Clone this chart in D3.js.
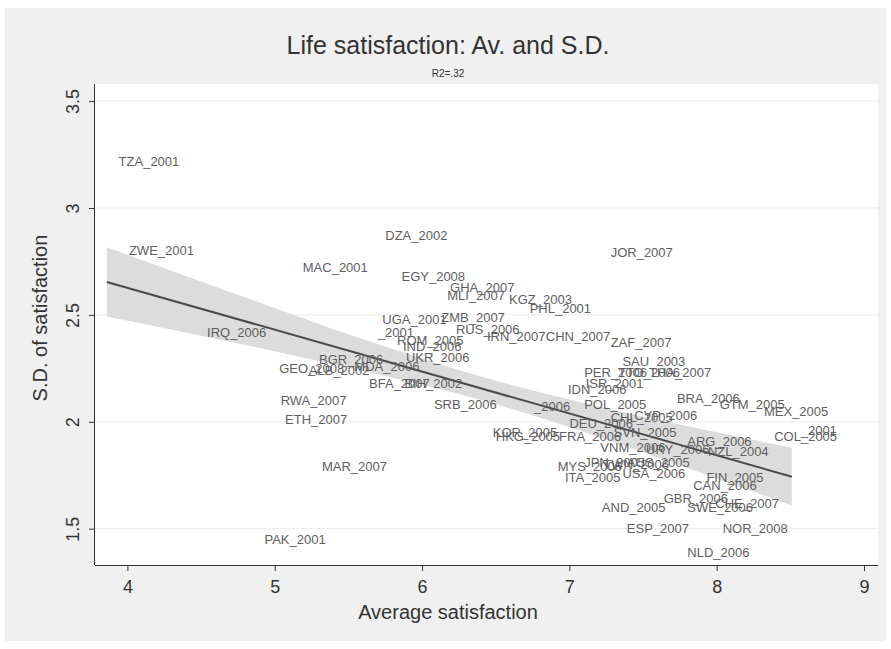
<!DOCTYPE html>
<html>
<head>
<meta charset="utf-8">
<script src="https://cdn.jsdelivr.net/npm/d3@7/dist/d3.min.js"></script>
<style>
  html, body { margin: 0; padding: 0; background: #ffffff; }
  svg { display: block; font-family: "Liberation Sans", Arial, Helvetica, sans-serif; }
</style>
</head>
<body>
<svg id="chart" width="891" height="649"></svg>
<script>
// ---- data ----
const labels = ["TZA_2001","ZWE_2001","MAC_2001","DZA_2002","EGY_2008","GHA_2007","MLI_2007","KGZ_2003","PHL_2001","JOR_2007",
  "UGA_2001","ZMB_2007","_2001","RUS_2006","IRN_2007","CHN_2007","ZAF_2007","IRQ_2006","ROM_2005","IND_2006",
  "UKR_2006","BGR_2006","GEO_2008","ALB_2002","MDA_2006","BFA_2007","BIH_2002","RWA_2007","SRB_2006","ETH_2007",
  "MAR_2007","PAK_2001","SAU_2003","PER_2006","TTO_2006","THA_2007","ISR_2001","IDN_2006","_2006","POL_2005",
  "CHL_2005","CYP_2006","BRA_2006","GTM_2005","MEX_2005","DEU_2006","SVN_2005","KOR_2005","HKG_2005","FRA_2006",
  "ARG_2006","COL_2005","_2001","VNM_2006","URY_2006","NZL_2004","MYS_2006","JPN_2005","TWN_2006","AUS_2005",
  "USA_2006","ITA_2005","FIN_2005","CAN_2006","AND_2005","GBR_2006","SWE_2006","CHE_2007","ESP_2007","NOR_2008",
  "NLD_2006"];
const avgSat = [3.92,3.99,5.17,5.73,5.84,6.17,6.15,6.57,6.71,7.26,
  5.71,6.11,5.68,6.21,6.42,6.82,7.26,4.52,5.81,5.85,
  5.87,5.28,5.01,5.21,5.52,5.62,5.86,5.02,6.06,5.05,
  5.30,4.91,7.34,7.08,7.31,7.52,7.09,6.97,6.74,7.08,
  7.26,7.42,7.71,8.00,8.30,6.98,7.28,6.46,6.48,6.91,
  7.78,8.37,8.55,7.19,7.50,7.92,6.90,7.08,7.21,7.37,
  7.34,6.95,7.91,7.82,7.20,7.62,7.78,7.97,7.37,8.02,
  7.78];
const sdSat = [3.22,2.80,2.72,2.87,2.68,2.63,2.59,2.57,2.53,2.79,
  2.48,2.49,2.42,2.43,2.40,2.40,2.37,2.42,2.38,2.35,
  2.30,2.29,2.25,2.24,2.26,2.18,2.18,2.10,2.08,2.01,
  1.79,1.45,2.28,2.23,2.23,2.23,2.18,2.15,2.07,2.08,
  2.02,2.03,2.11,2.08,2.05,1.99,1.95,1.95,1.93,1.93,
  1.91,1.93,1.96,1.88,1.87,1.86,1.79,1.81,1.80,1.81,
  1.76,1.74,1.74,1.70,1.60,1.64,1.60,1.62,1.50,1.50,
  1.39];

// fitted line and 95% band
const fitX = [3.86, 8.51];
const fitY = [2.654, 1.743];
const ciX     = [3.86, 4.5,   5.0,   5.5,   6.0,   6.5,   7.0,   7.5,   8.0,   8.51];
const ciUpper = [2.816,2.656, 2.532, 2.409, 2.296, 2.192, 2.104, 2.025, 1.951, 1.878];
const ciLower = [2.492,2.402, 2.330, 2.253, 2.174, 2.082, 1.975, 1.857, 1.735, 1.608];

const xTicks = [4, 5, 6, 7, 8, 9];
const yTicks = [1.5, 2, 2.5, 3, 3.5];
const yTickLabels = ["1.5", "2", "2.5", "3", "3.5"];

const title = "Life satisfaction: Av. and S.D.";
const subtitle = "R2=.32";
const xTitle = "Average satisfaction";
const yTitle = "S.D. of satisfaction";

// ---- layout ----
const svg = d3.select("#chart");
const W = 891, H = 649;
const plot = { left: 95, right: 878, top: 84, bottom: 565 };

svg.append("rect").attr("x", 0).attr("y", 0).attr("width", W).attr("height", H).attr("fill", "#ffffff");
svg.append("rect").attr("x", 5).attr("y", 8).attr("width", 881).attr("height", 633).attr("fill", "#f0f0f0");
svg.append("rect").attr("x", plot.left).attr("y", plot.top)
  .attr("width", plot.right - plot.left).attr("height", plot.bottom - plot.top).attr("fill", "#ffffff");

const x = d3.scaleLinear().domain([3.78, 9.095]).range([plot.left, plot.right]);
const y = d3.scaleLinear().domain([1.33, 3.58]).range([plot.bottom, plot.top]);

// gridlines
svg.append("g").selectAll("line").data(yTicks).join("line")
  .attr("x1", plot.left).attr("x2", plot.right)
  .attr("y1", d => y(d)).attr("y2", d => y(d))
  .attr("stroke", "#ececec").attr("stroke-width", 1);

// CI band
const band = ciX.map((v, i) => ({ x: v, lo: ciLower[i], hi: ciUpper[i] }));
svg.append("path").datum(band)
  .attr("d", d3.area().x(d => x(d.x)).y0(d => y(d.lo)).y1(d => y(d.hi)).curve(d3.curveMonotoneX))
  .attr("fill", "#dcdcdc");

// fit line
svg.append("path").datum(fitX.map((v, i) => [v, fitY[i]]))
  .attr("d", d3.line().x(d => x(d[0])).y(d => y(d[1])))
  .attr("stroke", "#4a4a4a").attr("stroke-width", 2).attr("fill", "none");

// labels (markers are invisible; labels placed right of the point)
svg.append("g").selectAll("text").data(labels).join("text")
  .attr("x", (d, i) => x(avgSat[i]) + 3)
  .attr("y", (d, i) => y(sdSat[i]))
  .attr("dy", "0.35em")
  .attr("font-size", 13)
  .attr("fill", "#5e5e5e")
  .text(d => d);

// axes
const xAxis = d3.axisBottom(x).tickValues(xTicks).tickSize(6).tickPadding(5).tickFormat(d3.format("d"));
const gx = svg.append("g").attr("transform", `translate(0,${plot.bottom})`).call(xAxis);
gx.select(".domain").attr("d", `M${plot.left},0.5H${plot.right}`).attr("stroke", "#333");
gx.selectAll(".tick line").attr("stroke", "#333");
gx.selectAll(".tick text").attr("font-size", 18).attr("fill", "#333")
  .attr("font-family", "Liberation Sans, Arial, sans-serif").attr("dy", "0.95em");

const yAxis = d3.axisLeft(y).tickValues(yTicks).tickSize(6).tickFormat((d, i) => yTickLabels[i]);
const gy = svg.append("g").attr("transform", `translate(${plot.left},0)`).call(yAxis);
gy.select(".domain").attr("d", `M-0.5,${plot.top}V${plot.bottom}`).attr("stroke", "#333");
gy.selectAll(".tick line").attr("stroke", "#333");
gy.selectAll(".tick text")
  .attr("font-size", 18).attr("fill", "#333")
  .attr("font-family", "Liberation Sans, Arial, sans-serif")
  .attr("x", null).attr("dy", null)
  .attr("text-anchor", "middle")
  .attr("transform", "translate(-22,0) rotate(-90)")
  .attr("y", 0).attr("dominant-baseline", "central");

// titles
svg.append("text").attr("x", 448).attr("y", 54).attr("text-anchor", "middle")
  .attr("font-size", 25).attr("fill", "#333").text(title);
svg.append("text").attr("x", 448).attr("y", 77).attr("text-anchor", "middle")
  .attr("font-size", 10).attr("fill", "#333").text(subtitle);
svg.append("text").attr("x", 448).attr("y", 619).attr("text-anchor", "middle")
  .attr("font-size", 20).attr("fill", "#333").text(xTitle);
svg.append("text").attr("transform", "translate(47,318) rotate(-90)").attr("text-anchor", "middle")
  .attr("font-size", 20).attr("fill", "#333").text(yTitle);
</script>
</body>
</html>
